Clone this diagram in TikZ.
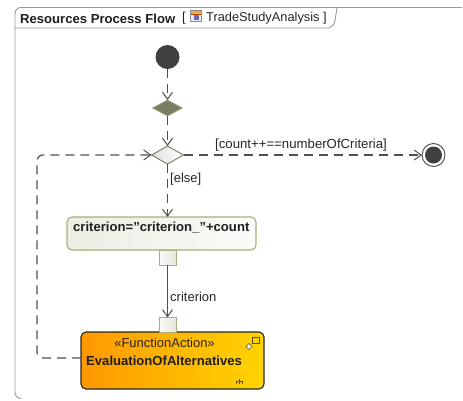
\documentclass[tikz,border=0pt]{standalone}
\usepackage{fontspec}
\setmainfont{Liberation Sans}
\usetikzlibrary{arrows.meta,shadings,shapes.geometric}
\definecolor{edgeg}{RGB}{80,80,80}
\definecolor{boxedge}{RGB}{172,172,125}
\definecolor{faorange}{RGB}{255,152,0}
\definecolor{fagold}{RGB}{255,212,0}
\definecolor{mergefill}{RGB}{122,124,100}
\tikzset{
  x=1pt,y=-1pt,
  flow/.style={draw=edgeg,line width=1.2pt,dash pattern=on 9pt off 6pt,-{Straight Barb[length=7pt,width=10pt,line width=1pt]}},
  solidflow/.style={draw=edgeg,line width=1.2pt,-{Straight Barb[length=7pt,width=10pt,line width=1pt]}},
  lab/.style={font=\fontsize{13}{15}\selectfont,text=black!85,inner sep=0pt,anchor=west},
  boldlab/.style={font=\fontsize{13.1}{15}\bfseries\selectfont,text=black!88,inner sep=0pt,anchor=west},
  pinbox/.style={draw=boxedge,line width=1pt,left color=white!95!boxedge,right color=boxedge!30,minimum width=17pt,minimum height=15pt,inner sep=0pt,outer sep=0pt},
  startdot/.style={circle,fill=black!75,minimum size=24pt,inner sep=0pt,outer sep=0pt},
  diam/.style={diamond,aspect=1.8,inner sep=0pt,outer sep=0pt}
}
\begin{document}
\begin{tikzpicture}
\useasboundingbox (0,0) rectangle (463,400);
\fill[white] (0,0) rectangle (463,400);
% frame
\draw[draw=black!40,line width=.9pt,rounded corners=6pt] (20,398.5) -- (15,398.5) -- (15,7.5) -- (462,7.5);
\draw[draw=black!40,line width=.9pt] (15,28) -- (329,28) .. controls (333,26) and (335,23) .. (335,20) -- (337,8);
\node[boldlab] (title) at (20,18.5) {Resources Process Flow};
\node[lab] (br1) at (182,18.5) {[};
% icon
\fill[black!8] (190,10) rectangle (201,21);
\draw[draw=orange!70!black,line width=.4pt,fill=orange!70] (190,10) rectangle (201,14);
\fill[blue!60!black!60] (194,15) rectangle (199,20);
\draw[black!45,line width=.4pt] (190,10) rectangle (201,21);
\node[lab,font=\fontsize{12.8}{15}\selectfont] (tname) at (206,18.5) {TradeStudyAnalysis ]};
% nodes
\node[startdot] (start) at (167.5,57) {};
\node[diam,fill=mergefill,draw=boxedge,line width=.7pt,minimum width=30pt,minimum height=16pt] (merge) at (167.5,108) {};
\node[diam,left color=black!12,right color=white,draw=black!50!olive!40!gray,line width=.9pt,minimum width=32pt,minimum height=18pt] (dec) at (167.5,155) {};
\node[circle,draw=black!70,line width=.9pt,minimum size=23pt,inner sep=0pt,outer sep=0pt,fill=white] (final) at (433.5,155) {};
\fill[black!75] (final.center) circle (8.5);
\node[draw=boxedge,line width=1.1pt,rounded corners=5pt,left color=boxedge!22,right color=white!95!boxedge,minimum width=189pt,minimum height=33pt,inner sep=0pt,outer sep=0pt] (act) at (161.5,233.5) {};
\coordinate (acttop) at (167.5,217);
\node[boldlab] (acttext) at (73,228) {criterion="criterion\_"+count};
\node[pinbox] (pout) at (167.5,257.5) {};
\node[draw=black!85,line width=1.1pt,rounded corners=5pt,left color=faorange,right color=fagold,minimum width=183pt,minimum height=57pt,inner sep=0pt,outer sep=0pt] (fa) at (172.5,360.5) {};
\node[pinbox] (pin) at (167.5,325) {};
\node[font=\fontsize{13}{15}\selectfont,text=black!85,inner sep=0pt] (st) at (164.5,343) {«FunctionAction»};
\node[boldlab] (fname) at (86,361) {EvaluationOfAlternatives};
% small icons in action
\draw[black!70,line width=.6pt,fill=fagold] (252,337) rectangle (259,343);
\draw[black!70,line width=.6pt,fill=white!80!yellow] (246,346.5) -- (249,343.5) -- (252,346.5) -- (249,349.5) -- cycle;
\draw[black!70,line width=.6pt] (239,384) -- (239,379) (236,384) -- (236,381.5) -- (242,381.5) -- (242,384);
% connectors
\draw[flow] (start) -- (merge);
\draw[flow] (merge) -- (dec);
\draw[flow] (dec) -- (final);
\draw[flow] (dec) -- (acttop);
\draw[solidflow] (pout) -- (pin);
\coordinate (c1) at (37,155);
\coordinate (c2) at (37,358);
\draw[flow,rounded corners=6pt] (fa.west |- c2) -- (c2) -- (c1) -- (dec);
% labels
\node[lab,font=\fontsize{13.2}{15}\selectfont] (g1) at (215,145.5) {[count++==numberOfCriteria]};
\node[lab] (g2) at (170,179.5) {[else]};
\node[lab] (g3) at (170,297) {criterion};
\end{tikzpicture}
\end{document}
